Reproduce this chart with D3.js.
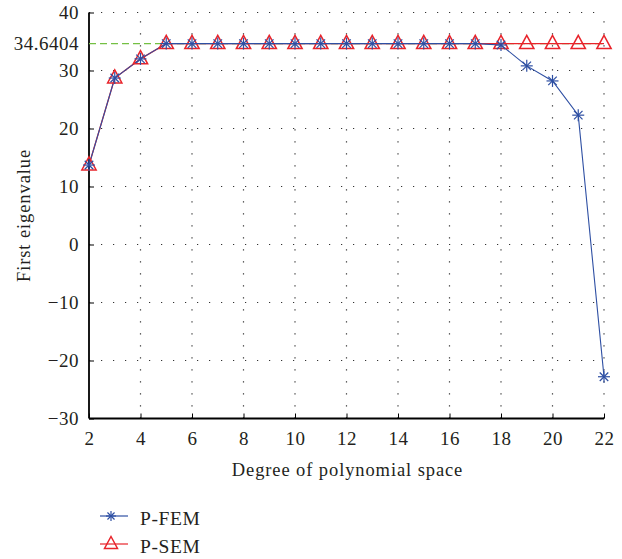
<!DOCTYPE html>
<html><head><meta charset="utf-8">
<script src="https://cdn.jsdelivr.net/npm/d3@7"></script>
<style>body{margin:0;background:#fff;} svg{display:block;}</style>
</head><body>
<script>
const degrees = [2,3,4,5,6,7,8,9,10,11,12,13,14,15,16,17,18,19,20,21,22];
const pFEM = [13.7,28.7,32.0,34.6404,34.6404,34.6404,34.6404,34.6404,34.6404,34.6404,34.6404,34.6404,34.6404,34.6404,34.6404,34.6404,34.4,30.8,28.2,22.3,-22.8];
const pSEM = [13.7,28.7,32.0,34.6404,34.6404,34.6404,34.6404,34.6404,34.6404,34.6404,34.6404,34.6404,34.6404,34.6404,34.6404,34.6404,34.6404,34.6404,34.6404,34.6404,34.6404];
const refValue = 34.6404;
const xTicks = [2,4,6,8,10,12,14,16,18,20,22];
const yTicks = [-30,-20,-10,0,10,20,30,40];
const seriesNames = ["P-FEM","P-SEM"];

const W=622,H=559;
const svg=d3.select("body").append("svg").attr("width",W).attr("height",H);
const font="'Liberation Serif','Times New Roman',serif";
const txt="#231f20";
const x=d3.scaleLinear().domain([2,22]).range([89,604]);
const y=d3.scaleLinear().domain([-30,40]).range([418.5,12.5]);
const blue="#2e4fa3", red="#e8242b";

// grid
const g=svg.append("g");
g.selectAll(".vg").data(xTicks.slice(1)).join("line")
 .attr("x1",d=>x(d)).attr("x2",d=>x(d)).attr("y1",y(-30)).attr("y2",y(40))
 .attr("stroke","#333").attr("stroke-width",1.2).attr("stroke-dasharray","1.2,10.8");
g.selectAll(".hg").data(yTicks.slice(1)).join("line")
 .attr("x1",x(2)).attr("x2",x(22)).attr("y1",d=>y(d)).attr("y2",d=>y(d))
 .attr("stroke","#333").attr("stroke-width",1.2).attr("stroke-dasharray","1.2,10.8");

// axes
const xAxis=d3.axisBottom(x).tickValues(xTicks).tickSize(-5).tickPadding(13).tickFormat(d3.format("d"));
const yAxis=d3.axisLeft(y).tickValues([...yTicks,refValue]).tickSize(-5).tickPadding(10)
 .tickFormat(d=>d===refValue?"34.6404":(d<0?"\u2212"+Math.abs(d):String(d)));
const ax=svg.append("g").attr("transform",`translate(0,${y(-30)})`).call(xAxis);
const ay=svg.append("g").attr("transform",`translate(${x(2)},0)`).call(yAxis);
[ax,ay].forEach(a=>{
 a.select(".domain").attr("stroke","#000").attr("stroke-width",1.8);
 a.selectAll(".tick line").attr("stroke","#000").attr("stroke-width",1);
 a.selectAll("text").attr("font-family",font).attr("font-size",19).attr("letter-spacing",0.5).attr("fill",txt);
});
ax.select(".domain").attr("d",`M${x(2)},0H${x(22)}`);
ay.select(".domain").attr("d",`M0,${y(-30)}V${y(40)}`);
ay.selectAll(".tick").filter(d=>d===refValue).select("line").remove();

// reference dashed line
svg.append("line").attr("x1",x(2)).attr("x2",x(22)).attr("y1",y(refValue)).attr("y2",y(refValue))
 .attr("stroke","#74c043").attr("stroke-width",1.3).attr("stroke-dasharray","7,4");

const line=d3.line().x((d,i)=>x(degrees[i])).y(d=>y(d));
svg.append("path").datum(pSEM).attr("d",line).attr("fill","none").attr("stroke",red).attr("stroke-width",1.3);
svg.append("path").datum(pFEM).attr("d",line).attr("fill","none").attr("stroke",blue).attr("stroke-width",1.1);

function star(sel,cx,cy,r){
 const gg=sel.append("g").attr("transform",`translate(${cx},${cy})`);
 for(let k=0;k<4;k++){
  const a=k*Math.PI/4;
  gg.append("line").attr("x1",-r*Math.cos(a)).attr("y1",-r*Math.sin(a)).attr("x2",r*Math.cos(a)).attr("y2",r*Math.sin(a))
   .attr("stroke",blue).attr("stroke-width",1.2);
 }
}
function tri(sel,cx,cy,s){
 sel.append("path").attr("d",`M${cx},${cy-s*0.75}L${cx+s*0.65},${cy+s*0.45}L${cx-s*0.65},${cy+s*0.45}Z`)
  .attr("fill","none").attr("stroke",red).attr("stroke-width",1.5);
}
degrees.forEach((d,i)=>tri(svg,x(d),y(pSEM[i]),11));
degrees.forEach((d,i)=>star(svg,x(d),y(pFEM[i]),6));

// labels
svg.append("text").attr("x",(x(2)+x(22))/2+1).attr("y",476).attr("text-anchor","middle")
 .attr("font-family",font).attr("font-size",18.5).attr("letter-spacing",0.9).attr("fill",txt).text("Degree of polynomial space");
svg.append("text").attr("transform",`translate(30,${(y(-30)+y(40))/2}) rotate(-90)`).attr("text-anchor","middle")
 .attr("font-family",font).attr("font-size",18.5).attr("letter-spacing",0.9).attr("fill",txt).text("First eigenvalue");

// legend
const leg=[{y:516,c:blue,m:"star"},{y:544,c:red,m:"tri"}];
leg.forEach((l,i)=>{
 svg.append("line").attr("x1",100).attr("x2",128).attr("y1",l.y).attr("y2",l.y).attr("stroke",l.c).attr("stroke-width",1.2);
 if(l.m==="star") star(svg,111,l.y,5); else tri(svg,111,l.y,10);
 svg.append("text").attr("x",140).attr("y",l.y+9).attr("font-family",font).attr("font-size",19.5).attr("letter-spacing",0.6).attr("fill",txt).text(seriesNames[i]);
});
</script>
</body></html>
